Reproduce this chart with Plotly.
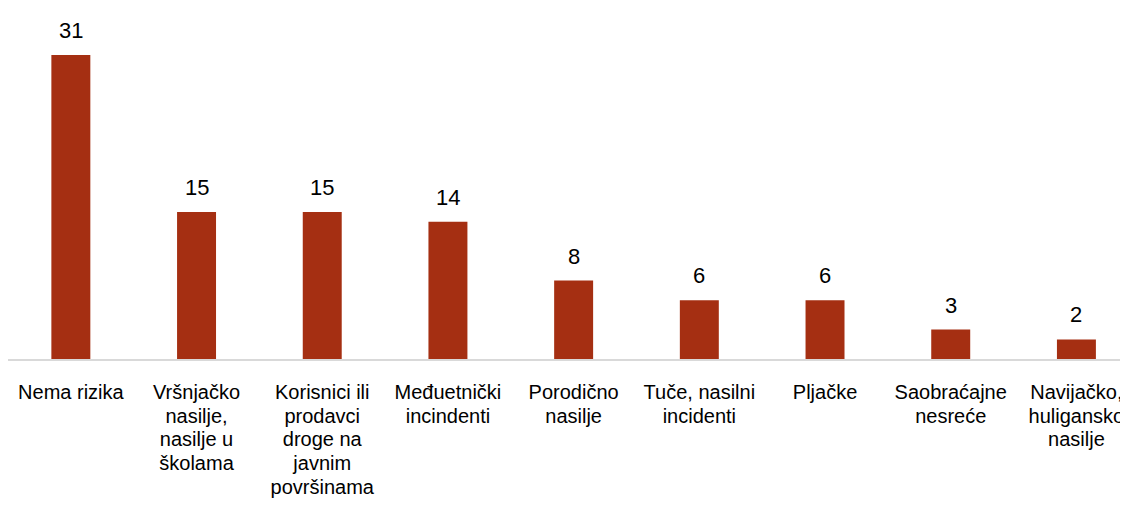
import plotly.graph_objects as go

category_lines = [
    ["Nema rizika"],
    ["Vršnjačko", "nasilje,", "nasilje u", "školama"],
    ["Korisnici ili", "prodavci", "droge na", "javnim", "površinama"],
    ["Međuetnički", "incindenti"],
    ["Porodično", "nasilje"],
    ["Tuče, nasilni", "incidenti"],
    ["Pljačke"],
    ["Saobraćajne", "nesreće"],
    ["Navijačko,", "huligansko", "nasilje"],
]
values = [31, 15, 15, 14, 8, 6, 6, 3, 2]

FONT = "Liberation Sans Narrow, Arial Narrow, Liberation Sans, Arial, sans-serif"
BAR = "#A52F12"
LABEL_PX = 20

ticktext = ["<br>".join(f'<span style="font-size:{LABEL_PX}px">{ln}</span>' for ln in lines)
            for lines in category_lines]

fig = go.Figure()
fig.add_trace(go.Bar(
    x=list(range(len(values))), y=values,
    marker=dict(color=BAR, line=dict(width=0)),
    width=0.31,
    hoverinfo="skip",
))
for i, v in enumerate(values):
    fig.add_annotation(x=i, y=v, text=str(v), showarrow=False,
                       yanchor="bottom", yshift=10,
                       font=dict(family=FONT, size=22, color="#000"))

fig.update_layout(
    width=1128, height=525,
    margin=dict(l=0, r=0, t=0, b=174),
    paper_bgcolor="white", plot_bgcolor="white",
    showlegend=False,
    font=dict(family=FONT, size=20, color="#000"),
    xaxis=dict(
        tickmode="array", tickvals=list(range(len(values))), ticktext=ticktext,
        range=[-0.5, 8.474], showgrid=False, zeroline=False,
        showline=True, linecolor="#D9D9D9", linewidth=1.5,
        ticks="", ticklabelstandoff=16, tickangle=0,
        tickfont=dict(family=FONT, size=18.3, color="#000"),
    ),
    yaxis=dict(range=[0, 35.8], visible=False),
)
fig.write_html("out.html")
